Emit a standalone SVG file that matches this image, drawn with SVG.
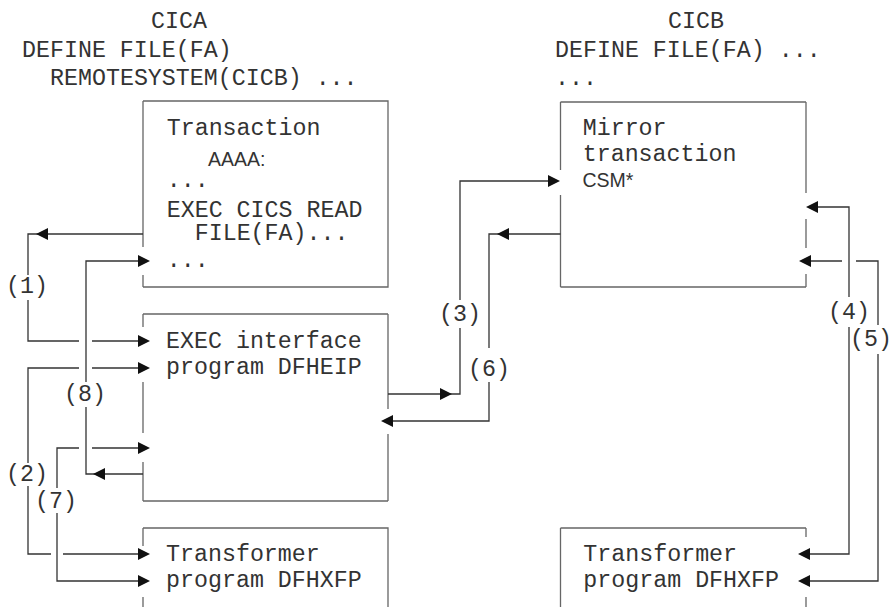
<svg xmlns="http://www.w3.org/2000/svg" xmlns:xlink="http://www.w3.org/1999/xlink" width="893" height="607" viewBox="0 0 893 607">
<style>
.t{font-family:"Liberation Mono","DejaVu Sans Mono",monospace;font-size:23.3px;fill:#333}
.s{font-family:"Liberation Sans",Arial,sans-serif;font-size:19.5px;fill:#333}
.lb{font-family:"Liberation Mono","DejaVu Sans Mono",monospace;font-size:23.3px;fill:#333;text-anchor:middle}
.e{fill:none;stroke:#666;stroke-width:1.3}
.c{fill:none;stroke:#333;stroke-width:1.3}
.ah{fill:#111}
</style>
<defs>
<path id="ar" d="M0,0 L-12,-6 L-12,6 Z"/>
</defs>
<rect width="893" height="607" fill="#fff"/>

<g id="cica-header">
<text class="t" x="151" y="28">CICA</text>
<text class="t" x="22" y="57">DEFINE FILE(FA)</text>
<text class="t" x="50" y="85">REMOTESYSTEM(CICB) ...</text>
</g>
<g id="cicb-header">
<text class="t" x="668" y="28">CICB</text>
<text class="t" x="555" y="57">DEFINE FILE(FA) ...</text>
<text class="t" x="555" y="85">...</text>
</g>

<g id="transaction-aaaa">
<path class="e" d="M143,101 H388 V287 H143 M143,101 V247 M143,275 V287"/>
<text class="t" x="166.7" y="135">Transaction</text>
<text class="s" x="208" y="166">AAAA:</text>
<text class="t" x="166.7" y="187">...</text>
<text class="t" x="166.7" y="216.7">EXEC CICS READ</text>
<text class="t" x="194.7" y="240">FILE(FA)...</text>
<text class="t" x="166.7" y="267">...</text>
</g>

<g id="exec-interface">
<path class="e" d="M143,314 H388 M143,501 H388 M143,314 V327 M143,382 V433 M143,462 V501 M388,314 V409 M388,434 V501"/>
<text class="t" x="166" y="347.7">EXEC interface</text>
<text class="t" x="166" y="374.3">program DFHEIP</text>
</g>

<g id="transformer-a">
<path class="e" d="M143,528 H388 V607 M143,528 V546 M143,597 V607"/>
<text class="t" x="166" y="561">Transformer</text>
<text class="t" x="166" y="587.3">program DFHXFP</text>
</g>

<g id="mirror">
<path class="e" d="M560.5,102 H806 M560.5,287 H806 M560.5,102 V170 M560.5,195 V287 M806,102 V193 M806,219 V248 M806,274 V287"/>
<text class="t" x="582.7" y="135">Mirror</text>
<text class="t" x="582.7" y="161">transaction</text>
<text class="s" x="582.5" y="187.3">CSM*</text>
</g>

<g id="transformer-b">
<path class="e" d="M560.5,528 H806 M560.5,528 V607 M806,528 V537 M806,597 V607"/>
<text class="t" x="583.3" y="561">Transformer</text>
<text class="t" x="583.3" y="587">program DFHXFP</text>
</g>

<g id="connectors">
<path class="c" d="M143,234 H28 V275 M28,300 V341 H79 M92,341 H140"/>
<path class="c" d="M140,368 H92 M79,368 H28 V463 M28,486 V554 H51 M63,554 H140"/>
<path class="c" d="M140,448 H92 M79,448 H57 V488 M57,513 V581 H140"/>
<path class="c" d="M143,474 H86 V407 M86,382 V261 H140"/>
<path class="c" d="M388,394 H460 V328 M460,300 V181 H550"/>
<path class="c" d="M560.5,234 H489 V348 M489,382 V421 H391"/>
<path class="c" d="M816,207 H849 V297 M849,327 V554 H808"/>
<path class="c" d="M809,261 H842 M856,261 H878 V325 M878,354 V581 H808"/>
<use xlink:href="#ar" class="ah" transform="translate(36,234) rotate(180)"/>
<use xlink:href="#ar" class="ah" transform="translate(150,341)"/>
<use xlink:href="#ar" class="ah" transform="translate(150,368)"/>
<use xlink:href="#ar" class="ah" transform="translate(150,554)"/>
<use xlink:href="#ar" class="ah" transform="translate(150,448)"/>
<use xlink:href="#ar" class="ah" transform="translate(150,581)"/>
<use xlink:href="#ar" class="ah" transform="translate(93,474) rotate(180)"/>
<use xlink:href="#ar" class="ah" transform="translate(150,261)"/>
<use xlink:href="#ar" class="ah" transform="translate(452,394)"/>
<use xlink:href="#ar" class="ah" transform="translate(560,181)"/>
<use xlink:href="#ar" class="ah" transform="translate(497,234) rotate(180)"/>
<use xlink:href="#ar" class="ah" transform="translate(381,421) rotate(180)"/>
<use xlink:href="#ar" class="ah" transform="translate(806,207) rotate(180)"/>
<use xlink:href="#ar" class="ah" transform="translate(798,554) rotate(180)"/>
<use xlink:href="#ar" class="ah" transform="translate(799,261) rotate(180)"/>
<use xlink:href="#ar" class="ah" transform="translate(798,581) rotate(180)"/>
<text class="lb" x="27" y="293">(1)</text>
<text class="lb" x="27" y="481">(2)</text>
<text class="lb" x="56" y="507.5">(7)</text>
<text class="lb" x="85" y="401">(8)</text>
<text class="lb" x="460" y="320.5">(3)</text>
<text class="lb" x="489" y="375.5">(6)</text>
<text class="lb" x="849" y="319">(4)</text>
<text class="lb" x="871" y="345.5">(5)</text>
</g>
</svg>
